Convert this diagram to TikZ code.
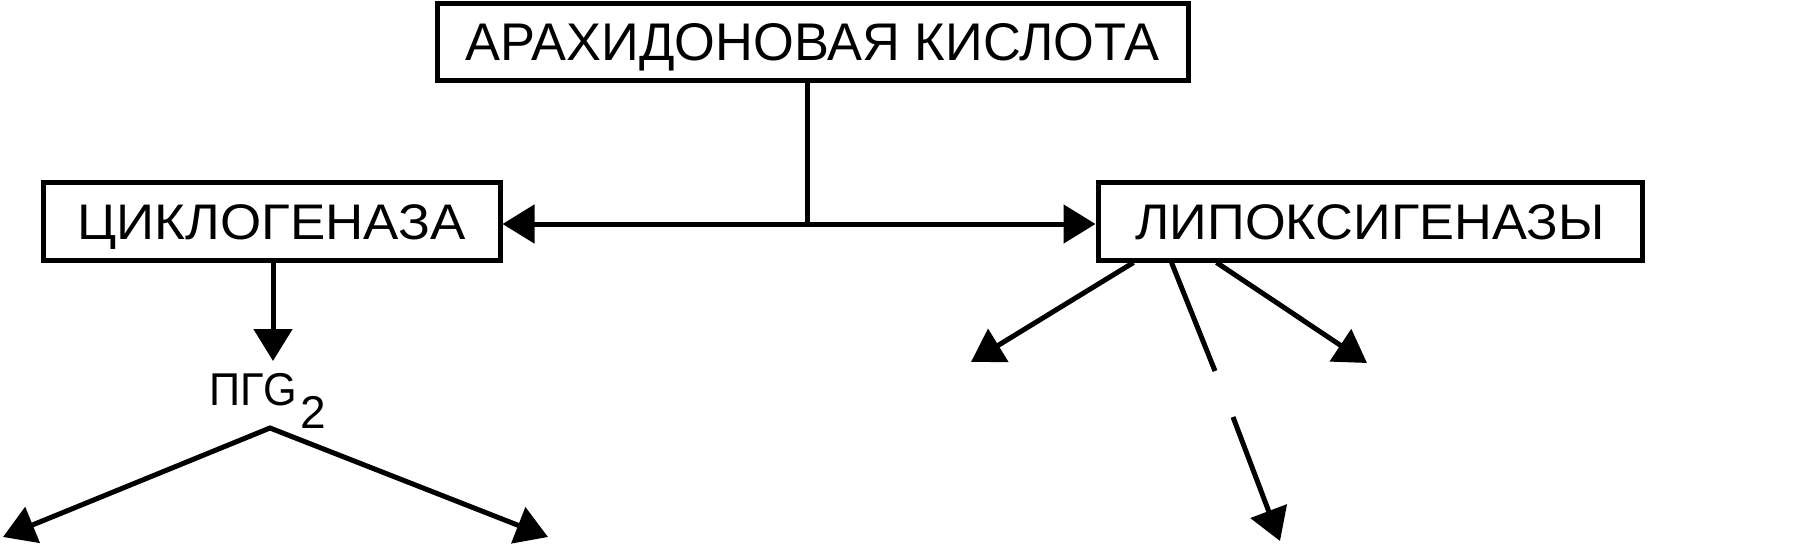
\documentclass[tikz,border=0pt]{standalone}
\usepackage{fontspec}
\setmainfont{Liberation Sans}
\usetikzlibrary{arrows.meta}
\begin{document}
\begin{tikzpicture}[x=1pt,y=-1pt,
  box/.style={draw,line width=5pt,rectangle,inner sep=0pt,minimum height=78pt,text height=37pt,text depth=0pt},
  conn/.style={line width=5pt},
  tipa/.tip={Triangle[length=32pt,width=38pt]},
  arr/.style={conn,-tipa},
]
\useasboundingbox (0,0) rectangle (1817,546);
\node[box,minimum width=751pt,minimum height=77pt] (aa) at (812.5,42) {\resizebox{694pt}{\height}{\fontsize{53}{60}\selectfont АРАХИДОНОВАЯ КИСЛОТА}};
\node[box,minimum width=457pt] (cyc) at (271.5,221) {\resizebox{388pt}{\height}{\fontsize{50}{60}\selectfont ЦИКЛОГЕНАЗА}};
\node[box,minimum width=544pt] (lip) at (1370,221) {\resizebox{469pt}{\height}{\fontsize{50}{60}\selectfont ЛИПОКСИГЕНАЗЫ}};
\node[inner sep=0pt,anchor=base west] (pg) at (209,405) {\fontsize{46}{50}\selectfont\resizebox{88pt}{\height}{ПГG}\kern3pt\raisebox{-23pt}{2}};
% junction
\coordinate (j) at (807,224);
\draw[conn] (aa.south -| j) -- (j);
\draw[arr] (j) -- (cyc.east |- j);
\draw[arr] (j) -- (lip.west |- j);
% cyclooxygenase branch
\coordinate (pgtop) at (273,361);
\draw[arr] (cyc.south -| pgtop) -- (pgtop);
\coordinate (peak) at (270,428);
\coordinate (b1) at (3,537);
\coordinate (b2) at (548,537);
\draw[conn,tipa-tipa] (b1) -- (peak) -- (b2);
% lipoxygenase branches
\coordinate (s1) at ([xshift=38pt]lip.south west);
\coordinate (s2) at ([xshift=76pt]lip.south west);
\coordinate (s3) at ([xshift=121pt]lip.south west);
\coordinate (l1) at (971,362);
\coordinate (l3) at (1367,363);
\coordinate (m1) at (1215,371);
\coordinate (m2) at (1233,417);
\coordinate (l2) at (1280,541);
\draw[arr] (s1) -- (l1);
\draw[arr] (s3) -- (l3);
\draw[conn] (s2) -- (m1);
\draw[arr] (m2) -- (l2);
\end{tikzpicture}
\end{document}
